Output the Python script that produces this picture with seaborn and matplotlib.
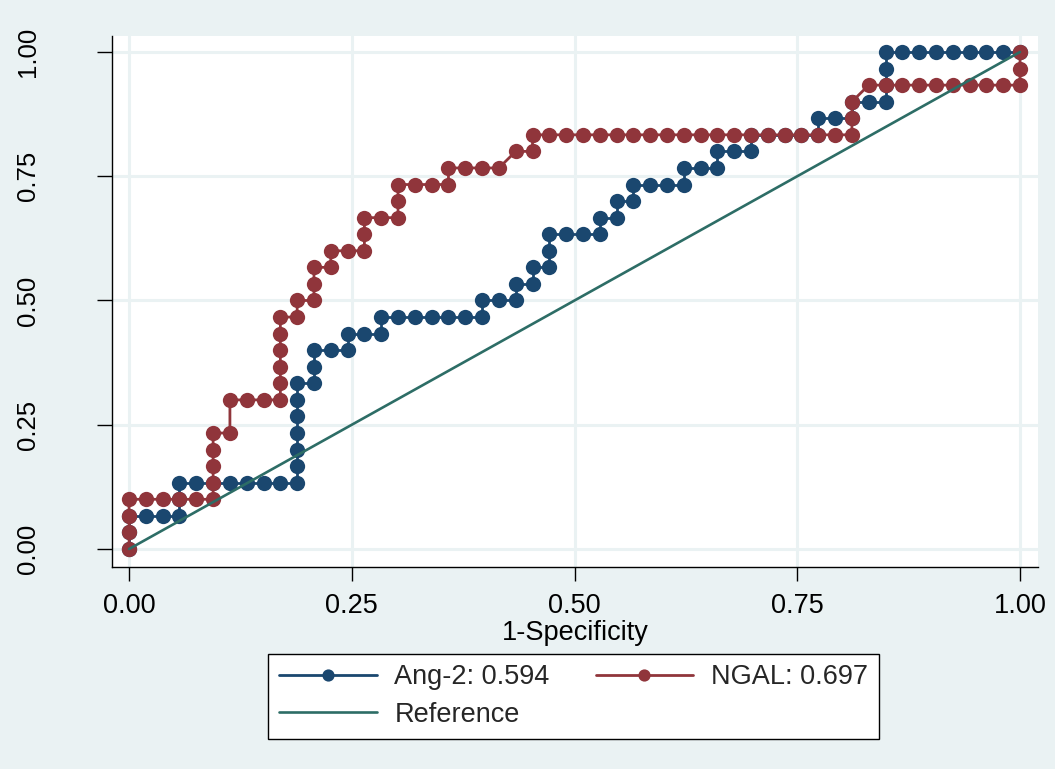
import numpy as np
import pandas as pd
import matplotlib
matplotlib.use("Agg")
import matplotlib.pyplot as plt
import seaborn as sns

# ROC step points: counts of false positives (out of N_NEG) and true positives (out of N_POS)
N_NEG = 53
N_POS = 30

ang2_fp = [0, 0, 0,
           1, 2, 3, 3, 3,
           4, 5, 6, 7, 8, 9, 10,
           10, 10, 10, 10, 10, 10,
           11, 11, 11, 12, 13, 13, 14, 15, 15,
           16, 17, 18, 19, 20, 21, 21, 22, 23, 23, 24, 24, 25, 25, 25,
           26, 27, 28, 28, 29, 29, 30, 30, 31, 32, 33, 33, 34, 35, 35, 36, 37, 37,
           38, 39, 40, 41, 41, 42, 43, 43, 44, 45, 45, 45, 45,
           46, 47, 48, 49, 50, 51, 52, 53]
ang2_tp = [0, 1, 2,
           2, 2, 2, 3, 4,
           4, 4, 4, 4, 4, 4, 4,
           5, 6, 7, 8, 9, 10,
           10, 11, 12, 12, 12, 13, 13, 13, 14,
           14, 14, 14, 14, 14, 14, 15, 15, 15, 16, 16, 17, 17, 18, 19,
           19, 19, 19, 20, 20, 21, 21, 22, 22, 22, 22, 23, 23, 23, 24, 24, 24, 25,
           25, 25, 25, 25, 26, 26, 26, 27, 27, 27, 28, 29, 30,
           30, 30, 30, 30, 30, 30, 30, 30]

ngal_fp = [0, 0, 0, 0, 1, 2, 3, 4, 5,
           5, 5, 5, 5, 6, 6, 7, 8, 9,
           9, 9, 9, 9, 9, 10, 10, 11, 11, 11, 12, 12, 13, 14, 14, 14, 15, 16,
           16, 16, 17, 18, 19, 19, 20, 21, 22, 23, 24, 24,
           25, 26, 27, 28, 29, 30, 31, 32, 33, 34, 35, 36, 37, 38, 39, 40, 41, 42, 43,
           43, 43, 44, 45, 46, 47, 48, 49, 50, 51, 52, 53, 53, 53]
ngal_tp = [0, 1, 2, 3, 3, 3, 3, 3, 3,
           4, 5, 6, 7, 7, 9, 9, 9, 9,
           10, 11, 12, 13, 14, 14, 15, 15, 16, 17, 17, 18, 18, 18, 19, 20, 20, 20,
           21, 22, 22, 22, 22, 23, 23, 23, 23, 24, 24, 25,
           25, 25, 25, 25, 25, 25, 25, 25, 25, 25, 25, 25, 25, 25, 25, 25, 25, 25, 25,
           26, 27, 28, 28, 28, 28, 28, 28, 28, 28, 28, 28, 29, 30]

ref_x = [0.0, 1.0]
ref_y = [0.0, 1.0]

series_labels = ["Ang-2: 0.594", "NGAL: 0.697", "Reference"]
tick_values = [0.0, 0.25, 0.5, 0.75, 1.0]
tick_labels = ["0.00", "0.25", "0.50", "0.75", "1.00"]
x_title = "1-Specificity"

NAVY = "#1A476F"
MAROON = "#90353B"
GREEN = "#2D6D66"
BG = "#EAF2F3"

sns.set_theme(style="white")
plt.rcParams["font.family"] = ["Liberation Sans", "DejaVu Sans"]

ang2 = pd.DataFrame({"fpr": np.array(ang2_fp) / N_NEG, "tpr": np.array(ang2_tp) / N_POS})
ngal = pd.DataFrame({"fpr": np.array(ngal_fp) / N_NEG, "tpr": np.array(ngal_tp) / N_POS})
ref = pd.DataFrame({"fpr": ref_x, "tpr": ref_y})

fig = plt.figure(figsize=(10.55, 7.69), dpi=100, facecolor=BG)
ax = fig.add_axes([0.1062, 0.2627, 0.8777, 0.6905])
ax.set_facecolor("white")

line_kw = dict(sort=False, estimator=None, linewidth=2.0, marker="o",
               markersize=11.0, markeredgewidth=0, ax=ax)
sns.lineplot(data=ang2, x="fpr", y="tpr", color=NAVY, label=series_labels[0],
             zorder=3, **line_kw)
sns.lineplot(data=ngal, x="fpr", y="tpr", color=MAROON, label=series_labels[1],
             zorder=4, **line_kw)
sns.lineplot(data=ref, x="fpr", y="tpr", color=GREEN, linewidth=1.9,
             label=series_labels[2], sort=False, estimator=None, zorder=5, ax=ax)

ax.set_xlim(-0.0191, 1.0202)
ax.set_ylim(-0.0362, 1.0322)
ax.set_xticks(tick_values)
ax.set_xticklabels(tick_labels)
ax.set_yticks(tick_values)
ax.set_yticklabels(tick_labels, rotation=90, va="center")

ax.grid(True, color=BG, linewidth=2.2)
ax.set_axisbelow(True)
for side in ("top", "right"):
    ax.spines[side].set_visible(False)
for side in ("left", "bottom"):
    ax.spines[side].set_color("black")
    ax.spines[side].set_linewidth(1.0)

ax.tick_params(axis="x", bottom=True, length=10, width=1.0, color="black",
               pad=8.5, labelsize=19.5, labelcolor="black")
ax.tick_params(axis="y", left=True, length=11, width=1.0, color="black",
               pad=41, labelsize=18.5, labelcolor="black")

ax.set_xlabel(x_title, fontsize=19.5, color="black", labelpad=1)
ax.set_ylabel("")

handles, labels = ax.get_legend_handles_labels()
order = [0, 2, 1]
leg = ax.legend([handles[i] for i in order], [labels[i] for i in order],
                ncol=2, loc="center", bbox_to_anchor=(0.5436, 0.0949),
                bbox_transform=fig.transFigure, frameon=True, fancybox=False,
                framealpha=1, facecolor="white", edgecolor="black",
                fontsize=19.5, handlelength=3.6, handletextpad=0.65,
                columnspacing=1.7, borderpad=0.4, labelspacing=0.42,
                numpoints=1, markerscale=0.8)
leg.get_frame().set_linewidth(1.0)

fig.savefig("out.png", dpi=100, facecolor=BG)
